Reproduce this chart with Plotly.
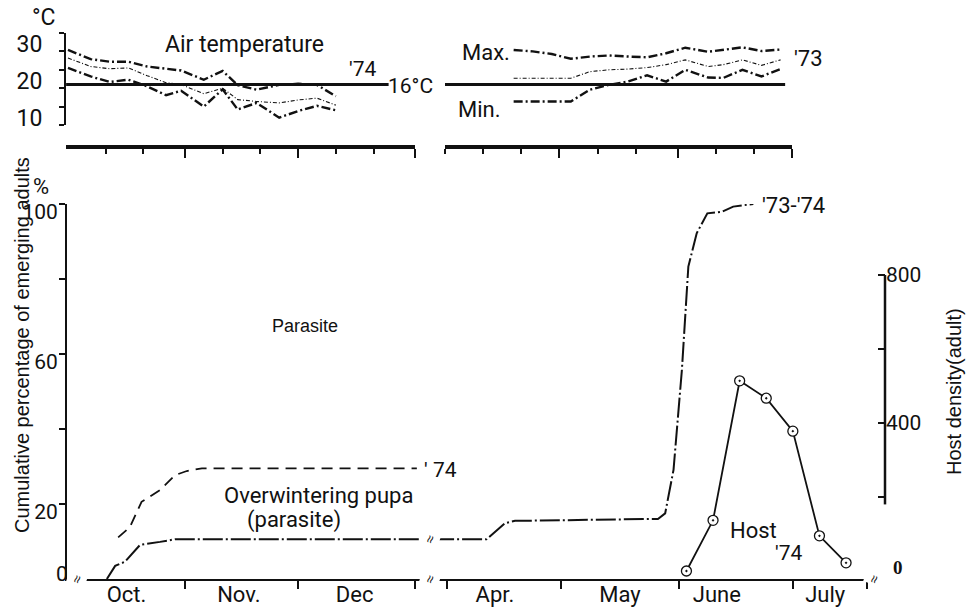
import plotly.graph_objects as go

# ---------------------------------------------------------------------------
# Data
# ---------------------------------------------------------------------------
# Air temperature, autumn '74 (days after 1 October), deg C
AUT_DAY = [0, 6, 11, 16, 21, 26, 30, 36, 41, 45, 50, 56, 61, 66, 71]
AUT_MAX = [25.4, 22.9, 22.2, 22.2, 20.9, 20.3, 19.8, 17.3, 19.7, 15.8, 14.6, 15.9, 16.2, 15.9, 12.8]
AUT_MEAN = [23.2, 20.9, 20.3, 20.5, 18.4, 16.5, 16.0, 13.5, 15.0, 11.9, 11.4, 11.0, 11.8, 12.3, 10.4]
AUT_MIN = [20.5, 18.2, 16.7, 17.3, 15.5, 13.1, 14.3, 10.0, 14.7, 9.2, 11.0, 7.0, 8.8, 10.2, 9.0]

# Air temperature, spring-summer '73 (days after 1 April), deg C
SPR_DAY = [18, 23, 28, 33, 38, 43, 48, 53, 58, 63, 69, 73, 78, 83, 88]
SPR_MAX = [25.4, 25.0, 24.3, 23.0, 23.6, 23.9, 23.6, 23.4, 24.5, 26.0, 24.9, 25.4, 26.1, 25.1, 25.5]
SPR_MEAN = [17.7, 17.7, 17.7, 17.7, 19.5, 20.0, 20.2, 20.6, 21.4, 22.7, 20.9, 21.4, 22.7, 21.2, 22.7]
SPR_MIN = [11.4, 11.4, 11.4, 11.4, 14.6, 15.9, 16.8, 18.5, 16.8, 20.0, 17.9, 17.8, 20.0, 18.2, 20.2]

THRESHOLD_C = 16

# Parasite, '73-'74: cumulative percentage of emerging adults
P7374_AUT_DAY = [10.3, 12.5, 15.1, 19.1, 24.4, 28.4, 94.0]
P7374_AUT_PCT = [0.0, 3.5, 4.6, 9.1, 9.9, 10.6, 10.6]
P7374_SPR_DAY = [-3.4, 10.4, 15.3, 17.9, 53.4, 55.5, 57.4, 59.6, 61.8, 62.8, 63.5, 65.7, 68.5, 72.3, 75.3, 80.6]
P7374_SPR_PCT = [10.6, 10.6, 14.9, 15.5, 16.0, 16.0, 17.5, 29.1, 55.7, 73.5, 83.3, 92.2, 97.5, 97.9, 99.3, 100.0]

# Parasite, '74 (overwintering pupa)
P74_DAY = [13.3, 16.4, 19.5, 21.0, 24.4, 28.4, 31.5, 35.5, 92.5]
P74_PCT = [11.1, 13.8, 20.6, 21.5, 23.7, 27.7, 28.8, 29.5, 29.5]

# Host density (adults), '74, days after 1 April
HOST_DAY = [63, 70, 77, 84, 91, 98, 105]
HOST_N = [0, 137, 514, 467, 378, 95, 22]

# Month labels and month boundaries
AUT_MONTHS = ["Oct.", "Nov.", "Dec"]
AUT_LABEL_POS = [15.5, 45.3, 76.0]
AUT_BOUNDS = [31, 61, 92]
SPR_MONTHS = ["Apr.", "May", "June", "July"]
SPR_LABEL_POS = [12.6, 45.5, 71.0, 99.5]
SPR_BOUNDS = [0, 30, 61, 91, 110.5]

# ---------------------------------------------------------------------------
W, H = 974, 610


def fx(px):
    return px / W


def fy(py):
    return 1 - py / H


LETTER = "Roboto, Liberation Sans, Arial, sans-serif"
ARIAL = "Liberation Sans, Arial, sans-serif"
INK = "#111111"

fig = go.Figure()

extreme_line = dict(color=INK, width=2.4, dash="9px,3px,2px,3px")
mean_line = dict(color=INK, width=1.1, dash="4px,2px,1px,2px")

for xa, ya, days, tmax, tmean, tmin in [
    ("x3", "y4", AUT_DAY, AUT_MAX, AUT_MEAN, AUT_MIN),
    ("x4", "y5", SPR_DAY, SPR_MAX, SPR_MEAN, SPR_MIN),
]:
    fig.add_trace(go.Scatter(x=days, y=tmax, mode="lines", line=extreme_line,
                             xaxis=xa, yaxis=ya, showlegend=False, hoverinfo="skip"))
    fig.add_trace(go.Scatter(x=days, y=tmean, mode="lines", line=mean_line,
                             xaxis=xa, yaxis=ya, showlegend=False, hoverinfo="skip"))
    fig.add_trace(go.Scatter(x=days, y=tmin, mode="lines", line=extreme_line,
                             xaxis=xa, yaxis=ya, showlegend=False, hoverinfo="skip"))

par_line = dict(color=INK, width=2.0, dash="20px,3px,2px,3px")
fig.add_trace(go.Scatter(x=P7374_AUT_DAY, y=P7374_AUT_PCT, mode="lines", line=par_line,
                         xaxis="x", yaxis="y", showlegend=False))
fig.add_trace(go.Scatter(x=P7374_SPR_DAY, y=P7374_SPR_PCT, mode="lines", line=par_line,
                         xaxis="x2", yaxis="y", showlegend=False))
fig.add_trace(go.Scatter(x=P74_DAY, y=P74_PCT, mode="lines",
                         line=dict(color=INK, width=1.8, dash="11px,7px"),
                         xaxis="x", yaxis="y", showlegend=False))
fig.add_trace(go.Scatter(x=HOST_DAY, y=HOST_N, mode="lines+markers",
                         line=dict(color=INK, width=1.8),
                         marker=dict(symbol="circle-dot", size=10, color="white",
                                     line=dict(color=INK, width=1.3)),
                         xaxis="x2", yaxis="y3", showlegend=False, cliponaxis=False))

# 16 deg C reference line in both temperature panels
fig.add_shape(type="line", xref="x3", yref="y4", x0=-0.5, x1=85, y0=THRESHOLD_C, y1=THRESHOLD_C,
              line=dict(color=INK, width=3))
fig.add_shape(type="line", xref="x4", yref="y5", x0=0, x1=89.2, y0=THRESHOLD_C, y1=THRESHOLD_C,
              line=dict(color=INK, width=3))
# host axis spine (broken below 180)
fig.add_shape(type="line", xref="paper", yref="y3", x0=fx(885), x1=fx(885), y0=180, y1=800,
              line=dict(color=INK, width=2.5))

base_axis = dict(showgrid=False, zeroline=False, color=INK, linecolor=INK, automargin=False)

fig.update_layout(
    width=W, height=H,
    margin=dict(l=0, r=0, t=0, b=0, pad=0, autoexpand=False),
    paper_bgcolor="white", plot_bgcolor="white",
    showlegend=False,
    xaxis=dict(base_axis, domain=[fx(67), fx(424)], range=[-0.27, 94.4], anchor="y",
               showline=True, linewidth=2,
               tickmode="array", tickvals=AUT_LABEL_POS, ticktext=AUT_MONTHS,
               ticks="outside", ticklen=0, ticklabelstandoff=-5,
               tickfont=dict(family=LETTER, size=22, color=INK),
               minor=dict(tickmode="array", tickvals=AUT_BOUNDS, ticks="outside",
                          ticklen=8, tickwidth=2, tickcolor=INK)),
    xaxis2=dict(base_axis, domain=[fx(432), fx(870)], range=[-3.95, 111.3], anchor="y",
                showline=True, linewidth=2,
                tickmode="array", tickvals=SPR_LABEL_POS, ticktext=SPR_MONTHS,
                ticks="outside", ticklen=0, ticklabelstandoff=-5,
                tickfont=dict(family=LETTER, size=22, color=INK),
                minor=dict(tickmode="array", tickvals=SPR_BOUNDS, ticks="outside",
                           ticklen=8, tickwidth=2, tickcolor=INK)),
    yaxis=dict(base_axis, domain=[fy(579), fy(204)], range=[0, 100], anchor="x",
               showline=True, linewidth=2,
               tickmode="array", tickvals=[20, 60, 100], ticktext=["20", "60", "100"],
               ticks="outside", ticklen=6, tickwidth=2, ticklabelshift=8, ticklabelstandoff=-3,
               tickfont=dict(family=LETTER, size=21, color=INK),
               minor=dict(tickmode="array", tickvals=[40, 80], ticks="outside",
                          ticklen=6, tickwidth=2, tickcolor=INK)),
    yaxis3=dict(base_axis, overlaying="y", side="right", anchor="free", position=fx(885),
                range=[-21.6, 991.9], showline=False,
                tickmode="array", tickvals=[400, 800], ticktext=["400", "800"],
                ticks="inside", ticklen=7, tickwidth=2,
                tickfont=dict(family=LETTER, size=21, color=INK),
                minor=dict(tickmode="array", tickvals=[200, 600], ticks="inside",
                           ticklen=7, tickwidth=2, tickcolor=INK)),
    xaxis3=dict(base_axis, domain=[fx(66), fx(415)], range=[-0.53, 92.0],
                anchor="free", position=fy(147), showline=True, linewidth=3.5,
                tickmode="array", tickvals=AUT_BOUNDS, showticklabels=False,
                ticks="outside", ticklen=9, tickwidth=2,
                minor=dict(tickmode="array", tickvals=[10, 20, 41, 51, 71, 81],
                           ticks="outside", ticklen=5, tickwidth=1.5, tickcolor=INK)),
    xaxis4=dict(base_axis, domain=[fx(445), fx(792)], range=[0, 91],
                anchor="free", position=fy(147), showline=True, linewidth=3.5,
                tickmode="array", tickvals=[30, 61, 91], showticklabels=False,
                ticks="outside", ticklen=9, tickwidth=2,
                minor=dict(tickmode="array", tickvals=[0, 10, 20, 40, 50, 71, 81],
                           ticks="outside", ticklen=5, tickwidth=1.5, tickcolor=INK)),
    yaxis4=dict(base_axis, domain=[fy(125), fy(33)], range=[5, 30], anchor="x3",
                showline=True, linewidth=2,
                tickmode="array", tickvals=[10, 20, 30], ticktext=["10", "20", "30"],
                ticks="outside", ticklen=5, tickwidth=2, ticklabelshift=11, ticklabelstandoff=12,
                tickfont=dict(family=LETTER, size=23, color=INK),
                minor=dict(tickmode="array", tickvals=[5, 15, 25], ticks="outside",
                           ticklen=5, tickwidth=2, tickcolor=INK)),
    yaxis5=dict(base_axis, domain=[fy(125), fy(33)], range=[5, 30], anchor="x4",
                matches="y4", visible=False),
)


def label(text, px, py, size=23, family=LETTER, angle=0, **kw):
    fig.add_annotation(text=text, x=fx(px), y=fy(py), xref="paper", yref="paper",
                       xanchor="center", yanchor="middle",
                       showarrow=False, textangle=angle,
                       font=dict(family=family, size=size, color=INK), **kw)


# temperature panel texts
label("°C", 44, 18, 23)
label("Air temperature", 245, 45, 23)
label("'74", 362, 69, 21)
label("16°C", 410, 86, 21)
label("Max.", 486, 52, 22)
label("Min.", 479, 110, 22)
label("'73", 808, 58, 22)

# main panel texts
label("%", 41, 186, 22)
label("Cumulative percentage of emerging adults", 22, 345, 20, ARIAL, -90)
label("Host density(adult)", 954, 392, 20, ARIAL, -90)
label("Parasite", 305, 326, 18, ARIAL)
label("'73-'74", 793, 205, 22)
label("' 74", 440, 470, 21)
label("Overwintering pupa", 318, 495, 22)
label("(parasite)", 294, 520, 22)
label("Host", 753, 530, 22)
label("'74", 788, 553, 21)
label("0", 62, 574, 21)
label("<b>0</b>", 898, 567, 19, "Liberation Serif, Times New Roman, serif")

# axis break marks
for bx, by in [(77, 579), (430, 579), (430, 539), (874, 579)]:
    label("≈", bx, by, 14, ARIAL, -70, bgcolor="white")

fig.write_html("out.html")
